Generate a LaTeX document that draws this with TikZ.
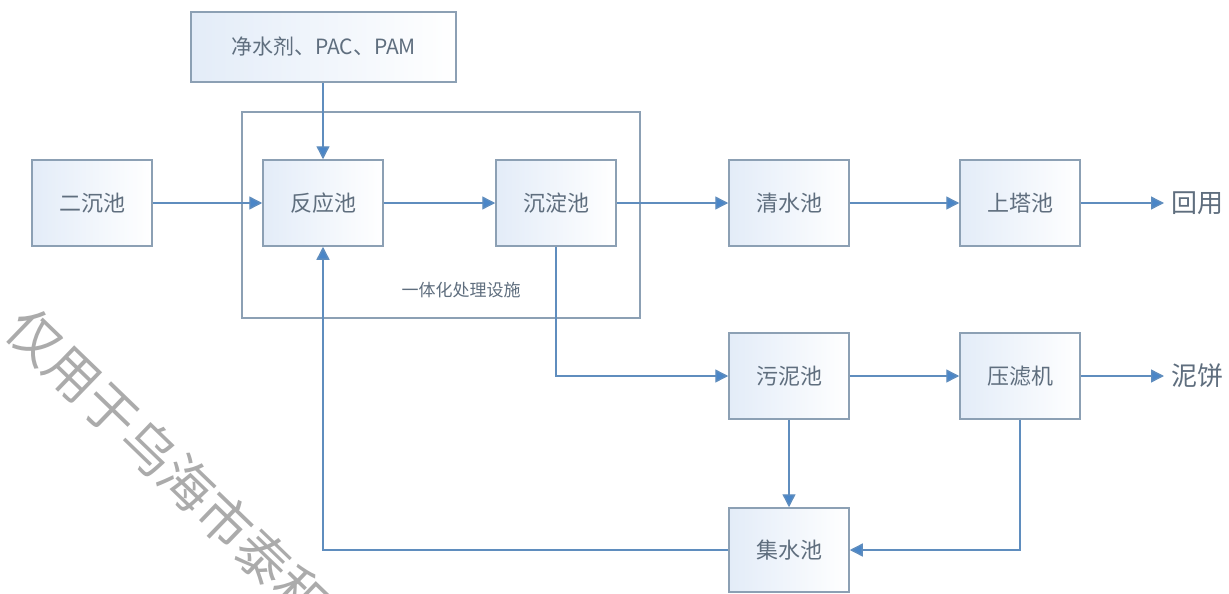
\documentclass[tikz,border=0pt]{standalone}
\usepackage{fontspec}
\setmainfont{Noto Sans CJK SC}
\usetikzlibrary{arrows.meta,positioning}
\definecolor{boxline}{HTML}{8CA0B4}
\definecolor{boxfill}{HTML}{E3ECF8}
\definecolor{arrowline}{HTML}{5F8DBE}
\definecolor{arrowtip}{HTML}{4A86C8}
\definecolor{txt}{HTML}{5F6E7E}
\definecolor{wm}{HTML}{ABABAB}
\tikzset{
  procbox/.style={draw=boxline, line width=1.5pt, left color=boxfill, right color=white,
    minimum width=120pt, minimum height=86pt, inner sep=0pt, font=\fontsize{22}{22}\selectfont, text=txt},
  frame/.style={draw=boxline, line width=1.5pt, inner sep=0pt},
  flow/.style={draw=arrowline, line width=1.4pt, -{Triangle[length=13pt,width=13pt,fill=arrowtip]}},
  outtext/.style={font=\fontsize{26}{26}\selectfont, text=txt, inner sep=0pt, anchor=west},
}
\begin{document}
\begin{tikzpicture}[x=1pt,y=-1pt]
\useasboundingbox (0,0) rectangle (1229,594);
\fill[white] (0,0) rectangle (1229,594);
% watermark
\begin{scope}
\clip (0,0) rectangle (1229,594);
\node[anchor=west, rotate=-44, text=wm, font=\fontsize{53}{53}\selectfont, inner sep=0pt] (wmark) at (16,318) {仅用于乌海市泰和};
\end{scope}
% integration frame
\node[frame, minimum width=398pt, minimum height=206pt] (big) at (441,215) {};
\node[text=txt, font=\fontsize{17}{17}\selectfont, inner sep=0pt] (biglabel) at (461,290) {一体化处理设施};
% boxes
\node[procbox, minimum width=265pt, minimum height=70pt, font=\fontsize{21}{21}\selectfont] (top) at (323.5,47) {净水剂、PAC、PAM};
\node[procbox] (erchen) at (92,203) {二沉池};
\node[procbox] (fanying) at (323,203) {反应池};
\node[procbox] (chendian) at (556,203) {沉淀池};
\node[procbox] (qingshui) at (789,203) {清水池};
\node[procbox] (shangta) at (1020,203) {上塔池};
\node[procbox] (wuni) at (789,376) {污泥池};
\node[procbox] (yalv) at (1020,376) {压滤机};
\node[procbox, minimum height=84pt] (jishui) at (789,550) {集水池};
\node[outtext] (huiyong) at (1171,203) {回用};
\node[outtext] (nibing) at (1171,376) {泥饼};
% connectors
\draw[flow] (erchen) -- (fanying);
\draw[flow] (top.south -| fanying.north) -- (fanying.north);
\draw[flow] (fanying) -- (chendian);
\draw[flow] (chendian) -- (qingshui);
\draw[flow] (qingshui) -- (shangta);
\draw[flow] (shangta) -- ([xshift=-7pt]huiyong.west);
\draw[flow] (chendian.south) |- (wuni.west);
\draw[flow] (wuni) -- (yalv);
\draw[flow] (yalv) -- ([xshift=-7pt]nibing.west);
\draw[flow] (wuni.south) -- (jishui.north);
\draw[flow] (yalv.south) |- (jishui.east);
\draw[flow] (jishui.west) -| (fanying.south);
\end{tikzpicture}
\end{document}
